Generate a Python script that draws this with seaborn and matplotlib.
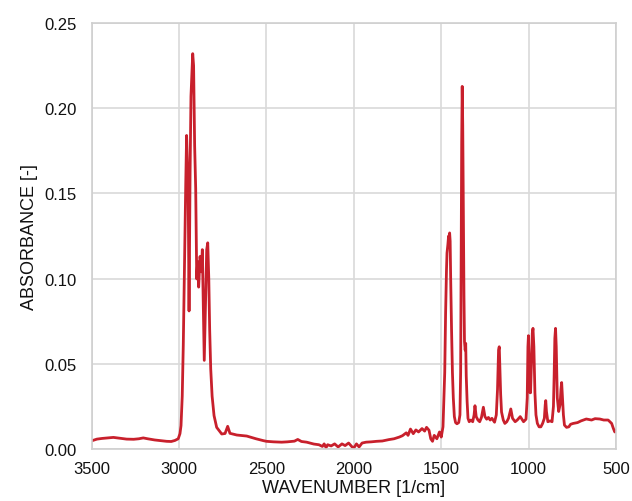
import matplotlib
matplotlib.use("Agg")
import matplotlib.pyplot as plt
import seaborn as sns
import pandas as pd

# wavenumber [1/cm] (descending)
wavenumber = [
    3500, 3470, 3440, 3400, 3376, 3340, 3300, 3260, 3230, 3205, 3180, 3140, 3100,
    3071, 3045, 3024, 3005, 2995, 2989, 2982, 2976, 2970, 2966, 2962, 2957, 2951,
    2948, 2943, 2937, 2932, 2926, 2922, 2917, 2911, 2905, 2899, 2894, 2888, 2880,
    2873, 2867, 2861, 2856, 2850, 2842, 2836, 2830, 2825, 2819, 2811, 2800, 2785,
    2756, 2737, 2722, 2709, 2670, 2613, 2560, 2518,
    2500, 2460, 2413, 2380, 2340, 2321, 2300, 2270, 2240, 2229, 2200, 2180, 2170,
    2159, 2150, 2130, 2110, 2090, 2068, 2050, 2030, 2010, 1999, 1985, 1970, 1953,
    1930, 1900, 1870, 1837, 1800, 1770, 1740, 1722, 1700, 1690, 1676, 1660, 1645,
    1630, 1610, 1595, 1584, 1570, 1560, 1550, 1540, 1525, 1510, 1500,
    1490, 1480, 1475, 1470, 1467, 1462, 1458, 1455, 1452, 1449, 1446, 1441, 1436,
    1431, 1425, 1418, 1410, 1400, 1393, 1389, 1386, 1383, 1380, 1377, 1373, 1370,
    1367, 1363, 1360, 1357, 1352, 1347, 1340, 1330, 1320, 1312, 1307, 1300, 1290,
    1280, 1270, 1259, 1250, 1240, 1230, 1220, 1210, 1195, 1185, 1178, 1172, 1168,
    1164, 1160, 1155, 1145, 1136, 1125, 1115, 1102, 1092, 1077, 1065, 1048, 1035,
    1029, 1015, 1008, 1004, 1001, 997, 992, 989, 984, 979, 975, 970, 964, 958,
    950, 940, 930, 920, 910, 905, 902, 898, 890, 877, 866, 858, 854, 850, 846,
    842, 836, 828, 820, 815, 811, 806, 801, 795, 783, 770, 760, 745, 720, 700,
    670, 640, 620, 593, 570, 545, 525, 515, 507, 500,
]

# absorbance [-]
absorbance = [
    0.0048, 0.0058, 0.0062, 0.0066, 0.0068, 0.0063, 0.0058, 0.0057, 0.0060, 0.0065, 0.0060, 0.0053, 0.0048,
    0.0045, 0.0044, 0.0050, 0.0060, 0.0090, 0.0137, 0.0310, 0.0610, 0.1020, 0.1310, 0.1550, 0.1840, 0.1630,
    0.1530, 0.0810, 0.1630, 0.2070, 0.2230, 0.2320, 0.2250, 0.1780, 0.1530, 0.0998, 0.1100, 0.0950, 0.1130,
    0.1040, 0.1170, 0.0800, 0.0520, 0.0800, 0.1170, 0.1210, 0.0998, 0.0700, 0.0470, 0.0310, 0.0196, 0.0127,
    0.0088, 0.0091, 0.0133, 0.0092, 0.0082, 0.0076, 0.0060, 0.0049,
    0.0045, 0.0042, 0.0040, 0.0042, 0.0046, 0.0056, 0.0044, 0.0040, 0.0032, 0.0029, 0.0025, 0.0015, 0.0030,
    0.0008, 0.0025, 0.0018, 0.0030, 0.0012, 0.0030, 0.0020, 0.0035, 0.0012, 0.0008, 0.0030, 0.0012, 0.0035,
    0.0040, 0.0042, 0.0045, 0.0047, 0.0055, 0.0060, 0.0070, 0.0078, 0.0095, 0.0080, 0.0117, 0.0090, 0.0112,
    0.0100, 0.0120, 0.0105, 0.0127, 0.0110, 0.0060, 0.0045, 0.0080, 0.0060, 0.0100, 0.0070,
    0.0130, 0.0450, 0.0800, 0.1050, 0.1150, 0.1200, 0.1250, 0.1205, 0.1268, 0.1220, 0.1000, 0.0700, 0.0450,
    0.0300, 0.0190, 0.0155, 0.0148, 0.0155, 0.0200, 0.0450, 0.1200, 0.1800, 0.2128, 0.1900, 0.1350, 0.0900,
    0.0630, 0.0580, 0.0620, 0.0430, 0.0280, 0.0180, 0.0160, 0.0170, 0.0160, 0.0200, 0.0254, 0.0190, 0.0170,
    0.0160, 0.0185, 0.0245, 0.0190, 0.0175, 0.0185, 0.0170, 0.0180, 0.0157, 0.0200, 0.0350, 0.0580, 0.0600,
    0.0450, 0.0320, 0.0217, 0.0170, 0.0150, 0.0160, 0.0180, 0.0235, 0.0180, 0.0160, 0.0170, 0.0190, 0.0170,
    0.0160, 0.0175, 0.0300, 0.0600, 0.0665, 0.0500, 0.0330, 0.0330, 0.0500, 0.0680, 0.0708, 0.0600, 0.0330, 0.0200,
    0.0150, 0.0130, 0.0130, 0.0150, 0.0180, 0.0260, 0.0284, 0.0220, 0.0160, 0.0165, 0.0160, 0.0250, 0.0430, 0.0650, 0.0708,
    0.0600, 0.0300, 0.0220, 0.0260, 0.0350, 0.0390, 0.0300, 0.0200, 0.0140, 0.0127, 0.0130, 0.0145, 0.0150, 0.0155, 0.0165,
    0.0176, 0.0170, 0.0178, 0.0176, 0.0170, 0.0170, 0.0150, 0.0120, 0.0100, 0.0110,
]

x_ticks = [3500, 3000, 2500, 2000, 1500, 1000, 500]
y_ticks = [0.00, 0.05, 0.10, 0.15, 0.20, 0.25]
x_label = "WAVENUMBER [1/cm]"
y_label = "ABSORBANCE [-]"

df = pd.DataFrame({"wn": wavenumber, "abs": absorbance})

sns.set_theme(style="white")
plt.rcParams["font.family"] = ["Liberation Sans", "DejaVu Sans"]

fig = plt.figure(figsize=(6.32, 5.02), dpi=100)
ax = fig.add_axes([0.1451, 0.1036, 0.9747 - 0.1451, 0.9522 - 0.1036])

sns.lineplot(data=df, x="wn", y="abs", ax=ax, color="#c8202c", linewidth=2.0,
             sort=False, estimator=None)

ax.set_xlim(3500, 500)
ax.set_ylim(0, 0.25)
ax.set_xticks(x_ticks)
ax.set_yticks(y_ticks)
ax.set_xticklabels([str(t) for t in x_ticks])
ax.set_yticklabels([f"{t:.2f}" for t in y_ticks])
ax.grid(True, color="#d9d9d9", linewidth=1.2)
ax.set_axisbelow(True)
for s in ax.spines.values():
    s.set_color("#cfcfcf")
    s.set_linewidth(1.2)
ax.tick_params(axis="both", length=0, labelsize=12, colors="#111111")
ax.tick_params(axis="x", pad=9)
ax.tick_params(axis="y", pad=11)
ax.set_xlabel(x_label, fontsize=13, labelpad=2, color="#111111")
ax.set_ylabel(y_label, fontsize=13, labelpad=4, color="#111111")

fig.savefig("out.png", dpi=100)
